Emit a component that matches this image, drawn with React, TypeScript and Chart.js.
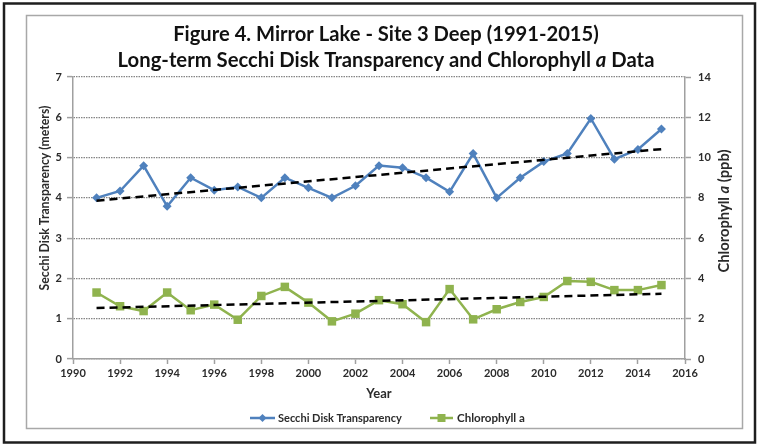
import React, { useEffect, useRef } from 'react';
import { Chart, registerables } from 'chart.js';

Chart.register(...registerables);

// ---------- data ----------
const years = [1991, 1992, 1993, 1994, 1995, 1996, 1997, 1998, 1999, 2000, 2001, 2002, 2003, 2004, 2005, 2006, 2007, 2008, 2009, 2010, 2011, 2012, 2013, 2014, 2015];
const secchi = [4.0, 4.17, 4.8, 3.79, 4.5, 4.19, 4.27, 4.0, 4.5, 4.25, 4.0, 4.3, 4.8, 4.75, 4.5, 4.15, 5.1, 4.0, 4.5, 4.9, 5.1, 5.97, 4.96, 5.2, 5.71];
const chlorophyll = [3.3, 2.62, 2.38, 3.3, 2.42, 2.7, 1.95, 3.13, 3.58, 2.8, 1.87, 2.25, 2.92, 2.72, 1.83, 3.47, 1.97, 2.47, 2.83, 3.08, 3.87, 3.83, 3.42, 3.42, 3.67];
const trendYears = [1991, 2015];
const secchiTrend = [3.93, 5.21];
const chlorophyllTrend = [2.53, 3.24];

const titleLine1 = 'Figure 4. Mirror Lake - Site 3 Deep (1991-2015)';
const titleLine2 = [
  { t: 'Long-term Secchi Disk Transparency and Chlorophyll ', i: false },
  { t: 'a', i: true },
  { t: ' Data', i: false },
];
const leftTitle = [{ t: 'Secchi Disk Transparency (meters)', i: false }];
const rightTitle = [
  { t: 'Chlorophyll ', i: false },
  { t: 'a', i: true },
  { t: ' (ppb)', i: false },
];
const xTitle = 'Year';
const seriesNames = ['Secchi Disk Transparency', 'Chlorophyll a'];

// ---------- styles ----------
const FAM = 'Lato, "Open Sans", sans-serif';
const BLUE = '#4F81BD';
const GREEN = '#8FB34E';
const AXIS = '#a0a0a0';
const GRID = '#858585';
const TXT = '#2b2b2b';

type Part = { t: string; i: boolean };

function font(size: number, italic: boolean) {
  return `${italic ? 'italic ' : ''}bold ${size}px ${FAM}`;
}
function measure(ctx: CanvasRenderingContext2D, parts: Part[], size: number) {
  let w = 0;
  for (const p of parts) {
    ctx.font = font(size, p.i);
    w += ctx.measureText(p.t).width;
  }
  return w;
}
function drawRich(ctx: CanvasRenderingContext2D, parts: Part[], cx: number, cy: number, target: number, rot: number, color: string) {
  const base = 16;
  const size = base * target / measure(ctx, parts, base);
  const total = measure(ctx, parts, size);
  ctx.save();
  ctx.translate(cx, cy);
  ctx.rotate(rot);
  ctx.fillStyle = color;
  ctx.textBaseline = 'middle';
  ctx.textAlign = 'left';
  let x = -total / 2;
  for (const p of parts) {
    ctx.font = font(size, p.i);
    ctx.fillText(p.t, x, 0);
    x += ctx.measureText(p.t).width;
  }
  ctx.restore();
}

function drawTextLeft(ctx: CanvasRenderingContext2D, text: string, x: number, y: number, target: number) {
  const base = 16;
  ctx.save();
  ctx.font = font(base, false);
  const size = base * target / ctx.measureText(text).width;
  ctx.font = font(size, false);
  ctx.fillStyle = TXT;
  ctx.textBaseline = 'middle';
  ctx.textAlign = 'left';
  ctx.fillText(text, x, y);
  ctx.restore();
}

const decor = {
  id: 'decor',
  beforeDraw(chart: any) {
    const ctx = chart.ctx as CanvasRenderingContext2D;
    ctx.save();
    ctx.fillStyle = '#fff';
    ctx.fillRect(0, 0, chart.width, chart.height);
    ctx.strokeStyle = '#1e1e1e';
    ctx.lineWidth = 2.5;
    ctx.strokeRect(4, 3.5, 751, 439);
    ctx.strokeStyle = '#a8a8a8';
    ctx.lineWidth = 1.5;
    ctx.strokeRect(26.5, 15.5, 716, 413);
    ctx.restore();
  },
  afterDraw(chart: any) {
    const ctx = chart.ctx as CanvasRenderingContext2D;
    drawRich(ctx, [{ t: titleLine1, i: false }], 386, 34, 426, 0, '#111');
    drawRich(ctx, titleLine2, 386, 60, 537, 0, '#111');
    drawRich(ctx, leftTitle, 45, 198, 185, -Math.PI / 2, TXT);
    drawRich(ctx, rightTitle, 724, 211, 123, -Math.PI / 2, TXT);

    // legend
    ctx.save();
    const ly = 418;
    ctx.lineWidth = 2.5;
    ctx.strokeStyle = BLUE;
    ctx.beginPath(); ctx.moveTo(250, ly); ctx.lineTo(275, ly); ctx.stroke();
    ctx.fillStyle = BLUE;
    ctx.beginPath(); ctx.moveTo(262.5 - 4, ly); ctx.lineTo(262.5, ly - 4); ctx.lineTo(262.5 + 4, ly); ctx.lineTo(262.5, ly + 4); ctx.closePath(); ctx.fill();
    ctx.strokeStyle = GREEN;
    ctx.beginPath(); ctx.moveTo(430, ly); ctx.lineTo(453, ly); ctx.stroke();
    ctx.fillStyle = GREEN;
    ctx.fillRect(441.5 - 4, ly - 4, 8, 8);
    ctx.restore();
    drawTextLeft(ctx, seriesNames[0], 278, ly, 124);
    drawTextLeft(ctx, seriesNames[1], 457, ly, 68);
  },
};

export default function App() {
  const ref = useRef<HTMLCanvasElement | null>(null);
  useEffect(() => {
    document.body.style.margin = '0';
    const canvas = ref.current;
    if (!canvas) return;
    const tickFont = { family: FAM, size: 11, weight: 'bold' as const };
    const chart = new Chart(canvas, {
      type: 'line',
      data: {
        datasets: [
          {
            label: seriesNames[0],
            data: years.map((y, i) => ({ x: y, y: secchi[i] })),
            yAxisID: 'y',
            borderColor: BLUE,
            backgroundColor: BLUE,
            borderWidth: 2.5,
            pointStyle: 'rectRot',
            pointRadius: 4.5,
            pointBorderWidth: 0,
            tension: 0,
            order: 2,
          },
          {
            label: seriesNames[1],
            data: years.map((y, i) => ({ x: y, y: chlorophyll[i] })),
            yAxisID: 'y1',
            borderColor: GREEN,
            backgroundColor: GREEN,
            borderWidth: 2.5,
            pointStyle: 'rect',
            pointRadius: 6,
            pointBorderWidth: 0,
            tension: 0,
            order: 3,
          },
          {
            label: 'secchi trend',
            data: trendYears.map((y, i) => ({ x: y, y: secchiTrend[i] })),
            yAxisID: 'y',
            borderColor: '#000',
            borderDash: [8, 5],
            borderWidth: 2.5,
            pointRadius: 0,
            order: 0,
          },
          {
            label: 'chlorophyll trend',
            data: trendYears.map((y, i) => ({ x: y, y: chlorophyllTrend[i] })),
            yAxisID: 'y1',
            borderColor: '#000',
            borderDash: [8, 5],
            borderWidth: 2.5,
            pointRadius: 0,
            order: 1,
          },
        ],
      },
      options: {
        responsive: false,
        animation: false,
        events: [],
        layout: { padding: { left: 30, right: 16, top: 77, bottom: 36 } },
        plugins: { legend: { display: false }, tooltip: { enabled: false }, title: { display: false } },
        scales: {
          x: {
            type: 'linear',
            min: 1990,
            max: 2016,
            ticks: { stepSize: 2, autoSkip: false, maxRotation: 0, color: TXT, font: tickFont, padding: 3, callback: (v: any) => String(v) },
            grid: { display: true, drawOnChartArea: false, tickLength: 5, color: AXIS, tickColor: AXIS, tickWidth: 1.5 },
            border: { color: AXIS, width: 1.5 },
            title: { display: true, text: xTitle, color: TXT, font: { family: FAM, size: 13, weight: 'bold' }, padding: { top: 0, bottom: 7 } },
            afterFit: (s: any) => { s.height = 50; },
          },
          y: {
            position: 'left',
            min: 0,
            max: 7,
            ticks: { stepSize: 1, color: TXT, font: tickFont, padding: 5 },
            grid: { color: GRID, lineWidth: 1.2, tickLength: 6, tickColor: AXIS, tickWidth: 1.5, tickBorderDash: [] },
            border: { color: AXIS, width: 1.5, dash: [1.5, 1] },
            afterFit: (s: any) => { s.width = 43; },
          },
          y1: {
            position: 'right',
            min: 0,
            max: 14,
            ticks: { stepSize: 2, color: TXT, font: tickFont, padding: 7 },
            grid: { drawOnChartArea: false, tickLength: 6, color: AXIS, tickColor: AXIS, tickWidth: 1.5 },
            border: { color: AXIS, width: 1.5 },
            afterFit: (s: any) => { s.width = 58; },
          },
        },
      },
      plugins: [decor],
    } as any);
    return () => chart.destroy();
  }, []);
  return (
    <div style={{ width: 759, height: 445 }}>
      <canvas ref={ref} width={759} height={445} style={{ display: 'block', width: 759, height: 445 }} />
    </div>
  );
}
